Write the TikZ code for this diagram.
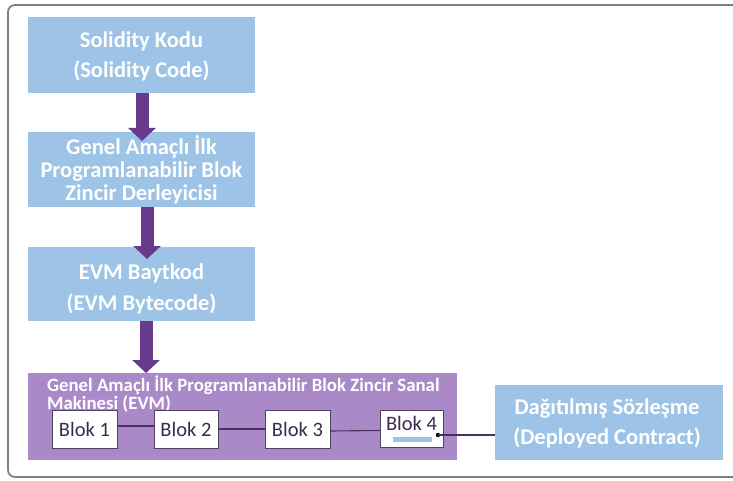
\documentclass[tikz,border=0pt]{standalone}
\usepackage{fontspec}
\setmainfont{Carlito}
\usetikzlibrary{arrows.meta}
\definecolor{boxblue}{RGB}{157,195,230}
\definecolor{evmpurple}{RGB}{170,137,200}
\definecolor{arrowpurple}{RGB}{104,58,140}
\definecolor{blokline}{RGB}{70,50,90}
\definecolor{bloktext}{RGB}{60,42,80}
\definecolor{framegray}{RGB}{128,128,128}
\tikzset{
  bluebox/.style={fill=boxblue, draw=none, inner sep=0pt},
  bluetext/.style={text=white, font=\bfseries\fontsize{22.5}{23}\selectfont, align=center, inner sep=0pt},
  blokbox/.style={fill=white, draw=blokline!80!gray, line width=0.9pt, inner sep=0pt},
  bloklabel/.style={text=bloktext, font=\fontsize{20.5}{22}\selectfont, inner sep=0pt},
  bigarrow/.style={draw=arrowpurple, line width=13pt, -{Triangle[width=27pt,length=13pt]}},
  blokconn/.style={draw=blokline, line width=1.1pt},
}
\begin{document}
\begin{tikzpicture}[x=1pt,y=-1pt]
\useasboundingbox (0,0) rectangle (733,481);
\fill[white] (0,0) rectangle (733,481);
\begin{scope}
\clip (0,0) rectangle (733,481);
\draw[framegray, line width=1.8pt, rounded corners=7pt] (8,5) rectangle (760,477);
\end{scope}

\node[bluebox, minimum width=227pt, minimum height=76pt] (solid) at (141.5,55) {};
\node[bluetext, font=\bfseries\fontsize{22.5}{30}\selectfont] (solidt) at (141.5,56) {Solidity Kodu\\(Solidity Code)};
\node[bluebox, minimum width=227pt, minimum height=75pt] (comp) at (141.5,169.5) {};
\node[bluetext] (compt) at (141.5,170) {Genel Amaçlı İlk\\Programlanabilir Blok\\Zincir Derleyicisi};
\node[bluebox, minimum width=227pt, minimum height=74pt] (byte) at (141.5,284) {};
\node[bluetext, font=\bfseries\fontsize{22.5}{31.5}\selectfont] (bytet) at (141.5,289) {EVM Baytkod\\(EVM Bytecode)};

\node[fill=evmpurple, minimum width=429pt, minimum height=87pt, inner sep=0pt] (evm) at (242.5,416.5) {};
\node[anchor=north west, text=white, font=\bfseries\fontsize{18.8}{18}\selectfont, align=left, inner sep=0pt] (evmtitle) at (47,375.5) {Genel Amaçlı İlk Programlanabilir Blok Zincir Sanal\\Makinesi (EVM)};

\node[blokbox, minimum width=65pt, minimum height=38pt] (b1) at (84.5,429) {};
\node[blokbox, minimum width=64pt, minimum height=38pt] (b2) at (186,429) {};
\node[blokbox, minimum width=65pt, minimum height=38pt] (b3) at (297.5,429) {};
\node[blokbox, minimum width=63pt, minimum height=37pt] (b4) at (411.5,428.5) {};
\node[bloklabel] (b1t) at (84.5,429) {Blok 1};
\node[bloklabel] (b2t) at (186,429) {Blok 2};
\node[bloklabel] (b3t) at (297.5,429) {Blok 3};
\node[bloklabel] (b4t) at (411.5,423) {Blok 4};
\fill[boxblue] (393,437) rectangle (432,442);

\node[bluebox, minimum width=228pt, minimum height=75pt] (dep) at (609,422.5) {};
\node[bluetext, font=\bfseries\fontsize{22.5}{30}\selectfont] (dept) at (607,423) {Dağıtılmış Sözleşme\\(Deployed Contract)};

\draw[blokconn] ([yshift=3pt]b1.east) -- ([yshift=3pt]b2.west);
\draw[blokconn] (b2.east) -- (b3.west);
\draw[blokconn] ([yshift=-2pt]b3.east) -- ([yshift=-2pt]b4.west);
\coordinate (dot) at (438,435);
\fill[black] (dot) circle (2.2pt);
\draw[blokconn] (dot) -- (dep.west |- dot);

\draw[bigarrow] (solid.south -| 142,0) -- (142,141);
\draw[bigarrow] (comp.south -| 147,0) -- (147,259);
\draw[bigarrow] (byte.south -| 146,0) -- (146,373);
\end{tikzpicture}
\end{document}
